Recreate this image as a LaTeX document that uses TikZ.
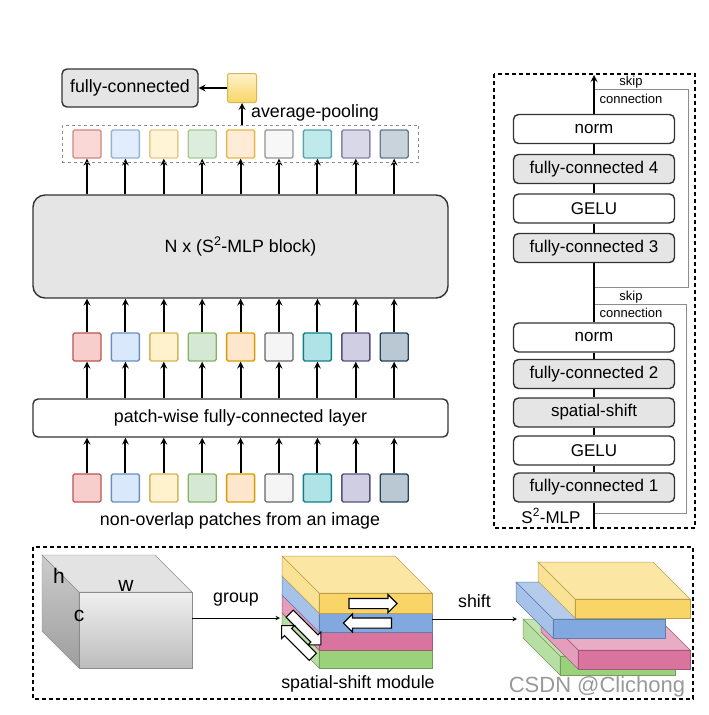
\documentclass[tikz,border=0pt]{standalone}
\usepackage{fontspec}
\setmainfont{Liberation Sans}
\usepackage{color}
\usepackage{tikz}
\usetikzlibrary{shapes.arrows}
\usetikzlibrary{fit}

\definecolor{redF}{HTML}{F8CECC}    \definecolor{redD}{HTML}{B85450}
\definecolor{blueF}{HTML}{DAE8FC}   \definecolor{blueD}{HTML}{6C8EBF}
\definecolor{yellowF}{HTML}{FFF2CC} \definecolor{yellowD}{HTML}{D6B656}
\definecolor{greenF}{HTML}{D5E8D4}  \definecolor{greenD}{HTML}{82B366}
\definecolor{orangeF}{HTML}{FFE6CC} \definecolor{orangeD}{HTML}{D79B00}
\definecolor{grayF}{HTML}{F5F5F5}   \definecolor{grayD}{HTML}{666666}
\definecolor{tealF}{HTML}{B0E3E6}   \definecolor{tealD}{HTML}{0E8088}
\definecolor{purpleF}{HTML}{D0CEE2} \definecolor{purpleD}{HTML}{56517E}
\definecolor{slateF}{HTML}{BAC8D3}  \definecolor{slateD}{HTML}{23445D}
\definecolor{layY}{HTML}{F8D566}
\definecolor{layB}{HTML}{82A8E0}
\definecolor{layP}{HTML}{D8749E}
\definecolor{layG}{HTML}{9AD27C}

% one slab of a stack: x, y of front top left corner, width, thickness, colour
\newcommand{\slab}[5]{%
  \filldraw[line width=0.5pt, draw=#5!75!black, fill=#5!60!white] (#1,#2) -- ++(-37,-37) -- ++(#3,0) -- ++(37,37) -- cycle;
  \filldraw[line width=0.5pt, draw=#5!75!black, fill=#5!70!white] (#1,#2) -- ++(-37,-37) -- ++(0,#4) -- ++(37,37) -- cycle;
  \filldraw[line width=0.5pt, draw=#5!75!black, fill=#5] (#1,#2) rectangle ++(#3,#4);
}

\begin{document}
\begin{tikzpicture}[x=1pt, y=-1pt, >=stealth,
  patch/.style={draw, line width=1.4pt, rounded corners=1.5pt, minimum size=28pt, inner sep=0pt},
  box/.style={draw=black!80, line width=1.4pt, rounded corners=5pt, minimum width=161pt, minimum height=29pt, inner sep=0pt, font=\fontsize{17pt}{20pt}\selectfont},
  gbox/.style={box, fill=black!10},
  flow/.style={->, line width=2pt},
  panel/.style={dashed, line width=1.3pt, dash pattern=on 4pt off 3pt},
  skipline/.style={black!45, line width=0.9pt},
  small/.style={font=\fontsize{13pt}{15pt}\selectfont, inner sep=0pt},
  blockarr/.style={single arrow, draw, fill=white, line width=1.1pt, minimum width=17pt, single arrow head extend=4pt, inner xsep=0pt, inner ysep=4.5pt, minimum height=48pt}]
\fontsize{17.8pt}{20pt}\selectfont
\useasboundingbox (0,0) rectangle (709,715);

% left: the whole network
\node[box, fill=black!10, minimum width=136pt, minimum height=38pt, font=\fontsize{17.8pt}{20pt}\selectfont] (fc) at (130,88) {fully-connected};
\node[patch, line width=1pt, draw=yellowD, top color=yellowF, bottom color=layY, minimum size=29pt] (pool) at (242,88) {};
\draw[flow] (pool) -- (fc);
\node[box, fill=black!10, rounded corners=12pt, minimum width=415pt, minimum height=103pt, font=\fontsize{17.8pt}{20pt}\selectfont] (blk) at (240.5,246.5) {N x (S\textsuperscript{2}-MLP block)};
\node[box, minimum width=415pt, minimum height=38pt, font=\fontsize{17.8pt}{20pt}\selectfont] (layer) at (240.5,418) {patch-wise fully-connected layer};
\foreach \c [count=\i] in {red,blue,yellow,green,orange,gray,teal,purple,slate}{
  \node[patch, fill=\c F, draw=\c D] (p\i) at ({87+38.4*(\i-1)},488) {};
  \node[patch, fill=\c F, draw=\c D] (m\i) at ({87+38.4*(\i-1)},347) {};
  \node[patch, fill=\c F!80!white, draw=\c D!70!white] (t\i) at ({87+38.4*(\i-1)},144) {};
  \draw[flow] (p\i) -- (p\i |- layer.south);
  \draw[flow] (m\i |- layer.north) -- (m\i);
  \draw[flow] (m\i) -- (m\i |- blk.south);
  \draw[flow] (t\i |- blk.north) -- (t\i);
}
\node[fit=(t1)(t9), draw=black!45, dashed, line width=1pt, inner xsep=10pt, inner ysep=4pt] (row) {};
\draw[flow] (row.north -| pool) -- (pool);
\node[anchor=west, inner sep=0pt] (avg) at (251,113) {average-pooling};
\node (patchtxt) at (240,521) {non-overlap patches from an image};

% right: one S2-MLP block
\draw[panel] (494,74) rectangle (695,528);
\node[gbox] (fc1) at (594,487.5) {fully-connected 1};
\node[box, fill=white] (gl1) at (594,450.5) {GELU};
\node[gbox] (ss) at (594,412.5) {spatial-shift};
\node[gbox] (fc2) at (594,374) {fully-connected 2};
\node[box, fill=white] (nm1) at (594,337.5) {norm};
\node[gbox] (fc3) at (594,248) {fully-connected 3};
\node[box, fill=white] (gl2) at (594,208.5) {GELU};
\node[gbox] (fc4) at (594,169) {fully-connected 4};
\node[box, fill=white] (nm2) at (594,129) {norm};
\coordinate (mlpin) at (594,528);
\coordinate (mlpout) at (594,75);
\coordinate (skA) at (594,513);
\coordinate (skB) at (594,304);
\coordinate (skC) at (594,287);
\coordinate (skD) at (594,89);
\draw[skipline] (skA) -| (686,304) -- (skB);
\draw[skipline] (skC) -| (688,89) -- (skD);
\draw[line width=1.4pt] (mlpin) -- (fc1);
\draw[line width=1.4pt] (fc1) -- (gl1);
\draw[line width=1.4pt] (gl1) -- (ss);
\draw[line width=1.4pt] (ss) -- (fc2);
\draw[line width=1.4pt] (fc2) -- (nm1);
\draw[line width=1.4pt] (nm1) -- (fc3);
\draw[line width=1.4pt] (fc3) -- (gl2);
\draw[line width=1.4pt] (gl2) -- (fc4);
\draw[line width=1.4pt] (fc4) -- (nm2);
\draw[flow] (nm2) -- (mlpout);
\node[small] (skip1) at (631,297) {skip};
\node[small] (conn1) at (631,313) {connection};
\node[small] (skip2) at (631,82) {skip};
\node[small] (conn2) at (631,99) {connection};
\node[font=\fontsize{17pt}{20pt}\selectfont] (mlptxt) at (551,516) {S\textsuperscript{2}-MLP};

% bottom: spatial-shift module
\draw[panel] (33,547) rectangle (693,699);
\shade[top color=black!20, bottom color=black!38, draw=black!45] (79,592) -- (42,555) -- (42,631) -- (79,668) -- cycle;
\filldraw[fill=black!11, draw=black!45] (79,592) -- (42,555) -- (155,555) -- (192,592) -- cycle;
\shade[top color=black!6, bottom color=black!26, draw=black!45] (79,592) rectangle (192,668);
\node[font=\fontsize{21pt}{24pt}\selectfont, inner sep=0pt] (h) at (59,576) {h};
\node[font=\fontsize{21pt}{24pt}\selectfont, inner sep=0pt] (w) at (126,586) {w};
\node[font=\fontsize{21pt}{24pt}\selectfont, inner sep=0pt] (c) at (79,616) {c};
\slab{319}{650}{113}{18}{layG}
\slab{319}{632}{113}{18}{layP}
\slab{319}{613}{113}{19}{layB}
\slab{319}{593}{113}{20}{layY}
\node[blockarr] (shr) at (370.5,603.5) {};
\node[blockarr, rotate=180] (shl) at (370,623) {};
\node[blockarr, minimum height=44pt, rotate=-45] (shd) at (303.5,627.5) {};
\node[blockarr, minimum height=44pt, rotate=135] (shu) at (299,643) {};
\node (sstxt) at (358,684) {spatial-shift module};
\slab{560}{656}{115}{19}{layG}
\slab{578}{650}{112}{19}{layP}
\slab{553}{619}{112}{19}{layB}
\slab{575}{599}{115}{19}{layY}
\coordinate (cubeR) at (192,618);
\coordinate (stkA) at (280,618);
\coordinate (stkAR) at (432,619);
\coordinate (stkB) at (517,619);
\draw[->, line width=1pt] (cubeR) -- node[above=5pt] {group} (stkA);
\draw[->, line width=1pt] (stkAR) -- node[above=5pt] {shift} (stkB);
\node[font=\fontsize{22pt}{24pt}\selectfont, text=black!40, inner sep=0pt] (mark) at (597,687) {CSDN @Clichong};
\end{tikzpicture}
\end{document}
